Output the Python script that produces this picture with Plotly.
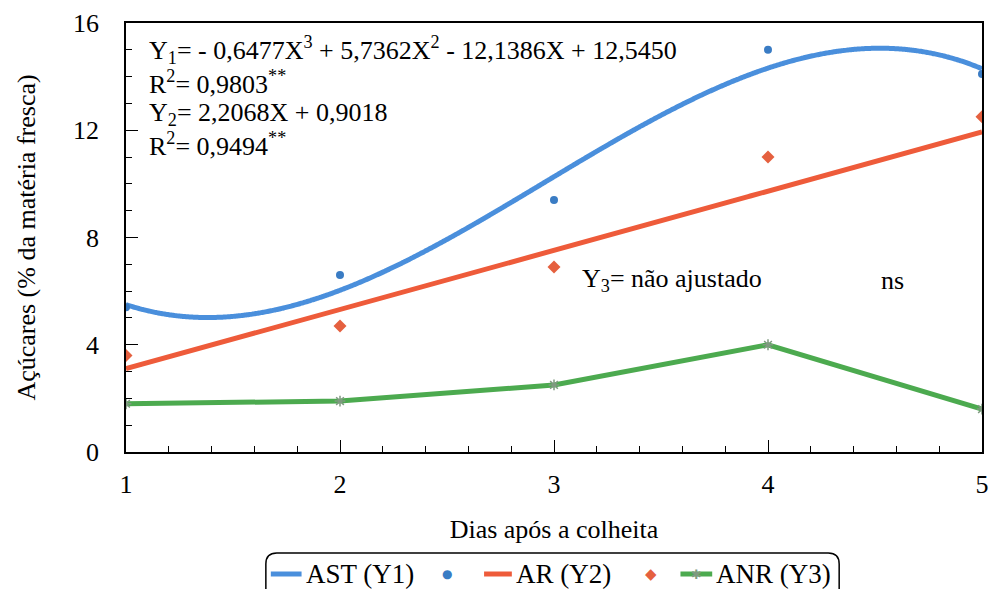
import numpy as np
import plotly.graph_objects as go

# Days after harvest
dias = [1, 2, 3, 4, 5]

# Measured sugar contents (% of fresh matter)
ast = [5.4, 6.6, 9.4, 15.0, 14.1]
ar = [3.6, 4.7, 6.9, 11.0, 12.5]
anr = [1.8, 1.9, 2.5, 4.0, 1.6]

# Fitted regression coefficients (highest power first)
coef_ast = [-0.6477, 5.7362, -12.1386, 12.5450]
coef_ar = [2.2068, 0.9018]

# Legend labels
leg_labels = ["AST (Y1)", "AR (Y2)", "ANR (Y3)"]

x_fit = np.linspace(1, 5, 400)
y_ast_fit = np.polyval(coef_ast, x_fit)
y_ar_fit = np.polyval(coef_ar, x_fit)

FONT = "'Liberation Serif', 'Times New Roman', 'DejaVu Serif', serif"
FS = 26
BLUE_LINE = "#4a8fdc"
BLUE_PT = "#3a7cc4"
RED_LINE = "#ee5b3a"
RED_PT = "#e5603f"
GREEN = "#4caa4f"
STAR = "#7f9a80"

W, H = 996, 589
M_L, M_R, M_T, M_B = 126, 7, 23, 137
PW, PH = W - M_L - M_R, H - M_T - M_B


def px(x):
    return (x - M_L) / PW


def py(y):
    return (H - M_B - y) / PH


fig = go.Figure()
fig.add_trace(go.Scatter(x=x_fit, y=y_ast_fit, mode="lines", name=leg_labels[0],
                         line=dict(color=BLUE_LINE, width=5, shape="spline")))
fig.add_trace(go.Scatter(x=dias, y=ast, mode="markers",
                         marker=dict(color=BLUE_PT, size=8, symbol="circle")))
fig.add_trace(go.Scatter(x=x_fit, y=y_ar_fit, mode="lines", name=leg_labels[1],
                         line=dict(color=RED_LINE, width=5)))
fig.add_trace(go.Scatter(x=dias, y=ar, mode="markers",
                         marker=dict(color=RED_PT, size=10, symbol="diamond")))
fig.add_trace(go.Scatter(x=dias, y=anr, mode="lines+markers", name=leg_labels[2],
                         line=dict(color=GREEN, width=5),
                         marker=dict(color=STAR, size=9, symbol="asterisk-open",
                                     line=dict(color=STAR, width=1.5))))

ann_font = dict(family=FONT, size=FS, color="black")
eq_ast = ("Y<sub>1</sub>= - 0,6477X<sup>3</sup> + 5,7362X<sup>2</sup> - 12,1386X + 12,5450<br>"
          "R<sup>2</sup>= 0,9803<sup>**</sup>")
eq_ar = ("Y<sub>2</sub>= 2,2068X + 0,9018<br>"
         "R<sup>2</sup>= 0,9494<sup>**</sup>")
fig.add_annotation(x=1.10, y=15.75, text=eq_ast, showarrow=False, xanchor="left",
                   yanchor="top", align="left", font=ann_font)
fig.add_annotation(x=1.10, y=13.28, text=eq_ar, showarrow=False, xanchor="left",
                   yanchor="top", align="left", font=ann_font)
fig.add_annotation(x=3.12, y=6.4, text="Y<sub>3</sub>= não ajustado", showarrow=False,
                   xanchor="left", yanchor="middle", font=ann_font)
fig.add_annotation(x=4.52, y=6.4, text="ns", showarrow=False,
                   xanchor="left", yanchor="middle", font=ann_font)

# Legend frame with rounded corners, running off the bottom edge
x0, x1, y0, y1, r = 267, 845, 553, 605, 11
path = (f"M {px(x0 + r)} {py(y0)} L {px(x1 - r)} {py(y0)} "
        f"Q {px(x1)} {py(y0)} {px(x1)} {py(y0 + r)} L {px(x1)} {py(y1)} "
        f"L {px(x0)} {py(y1)} L {px(x0)} {py(y0 + r)} "
        f"Q {px(x0)} {py(y0)} {px(x0 + r)} {py(y0)} Z")
fig.add_shape(type="path", path=path, xref="paper", yref="paper",
              line=dict(color="black", width=1.5), fillcolor="white", layer="above")

ly = 574
leg_font = dict(family=FONT, size=27, color="black")
keys = [(272, 303, BLUE_LINE, 305), (487, 515, RED_LINE, 517), (685, 717, GREEN, 719)]
for (a, b, col, tx), lab in zip(keys, leg_labels):
    fig.add_shape(type="line", xref="paper", yref="paper", x0=px(a), x1=px(b),
                  y0=py(ly), y1=py(ly), line=dict(color=col, width=5), layer="above")
    fig.add_annotation(xref="paper", yref="paper", x=px(tx), y=py(ly), text=lab,
                       showarrow=False, xanchor="left", yanchor="middle", font=leg_font)

for cx, glyph, col, size in [(450, "●", BLUE_PT, 12), (655, "◆", RED_PT, 15), (701, "✱", STAR, 13)]:
    fig.add_annotation(xref="paper", yref="paper", x=px(cx), y=py(ly), text=glyph,
                       showarrow=False, xanchor="center", yanchor="middle",
                       font=dict(family="DejaVu Sans", size=size, color=col))

fig.update_layout(
    width=W, height=H,
    margin=dict(l=M_L, r=M_R, t=M_T, b=M_B),
    paper_bgcolor="white", plot_bgcolor="white",
    font=dict(family=FONT, size=FS, color="black"),
    showlegend=False,
)
fig.update_xaxes(
    range=[1, 5], tickvals=dias, ticks="inside", ticklen=12, tickcolor="black",
    showline=True, linecolor="black", linewidth=1.5, mirror=True, showgrid=False,
    zeroline=False, ticklabelstandoff=8,
    minor=dict(dtick=0.2, ticks="inside", ticklen=6, tickcolor="black"),
    title=dict(text="Dias após a colheita", font=dict(family=FONT, size=FS), standoff=22),
)
fig.update_yaxes(
    range=[0, 16], tickvals=[0, 4, 8, 12, 16], ticks="inside", ticklen=12, tickcolor="black",
    showline=True, linecolor="black", linewidth=1.5, mirror=True, showgrid=False,
    zeroline=False, ticklabelstandoff=20,
    minor=dict(dtick=1, ticks="inside", ticklen=6, tickcolor="black"),
    title=dict(text="Açúcares (% da matéria fresca)", font=dict(family=FONT, size=FS), standoff=30),
)

fig.write_html("out.html")
